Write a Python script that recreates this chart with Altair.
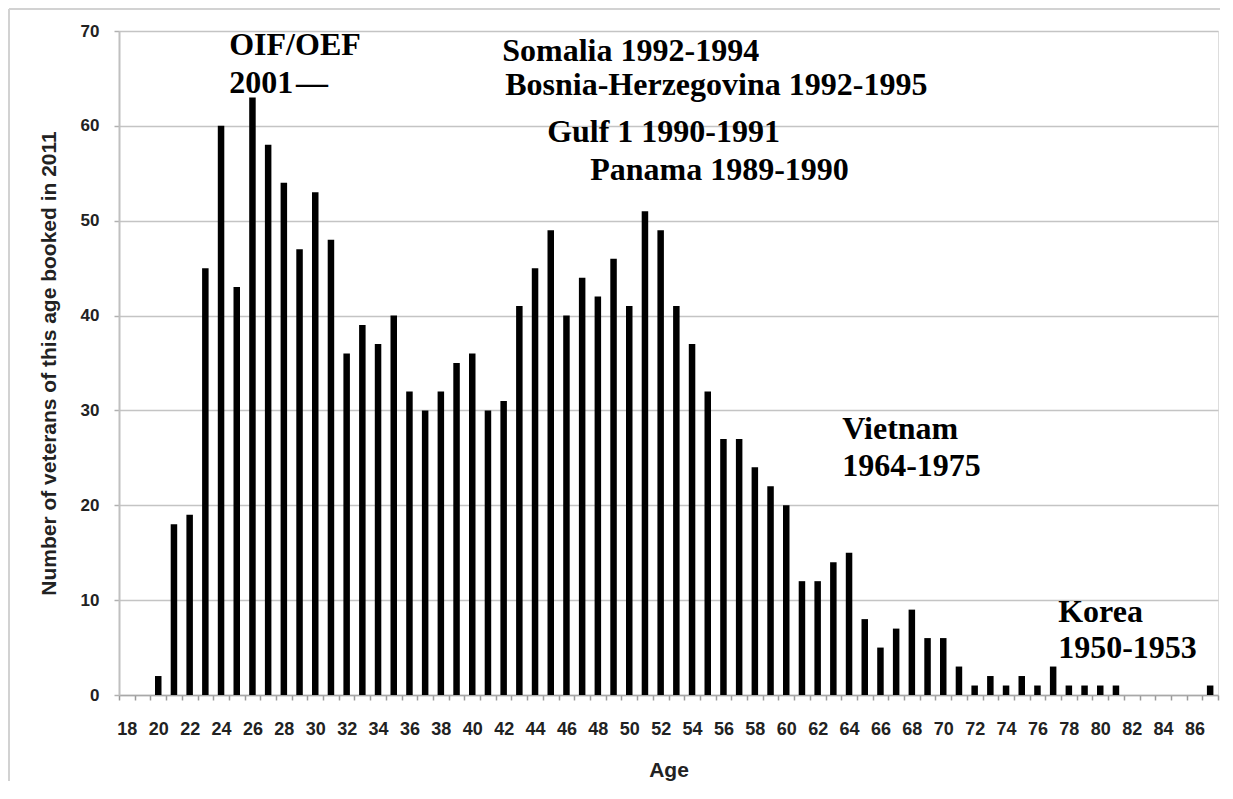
import altair as alt
import pandas as pd

ages = [18, 19, 20, 21, 22, 23, 24, 25, 26, 27, 28, 29, 30, 31, 32, 33, 34, 35,
        36, 37, 38, 39, 40, 41, 42, 43, 44, 45, 46, 47, 48, 49, 50, 51, 52, 53,
        54, 55, 56, 57, 58, 59, 60, 61, 62, 63, 64, 65, 66, 67, 68, 69, 70, 71,
        72, 73, 74, 75, 76, 77, 78, 79, 80, 81, 82, 83, 84, 85, 86, 87]
counts = [0, 0, 2, 18, 19, 45, 60, 43, 63, 58, 54, 47, 53, 48, 36, 39, 37, 40,
          32, 30, 32, 35, 36, 30, 31, 41, 45, 49, 40, 44, 42, 46, 41, 51, 49, 41,
          37, 32, 27, 27, 24, 22, 20, 12, 12, 14, 15, 8, 5, 7, 9, 6, 6, 3,
          1, 2, 1, 2, 1, 3, 1, 1, 1, 1, 0, 0, 0, 0, 0, 1]

note_text = ["OIF/OEF", "2001\u200a\u2014", "Somalia 1992-1994",
             "Bosnia-Herzegovina 1992-1995", "Gulf 1 1990-1991",
             "Panama 1989-1990", "Vietnam", "1964-1975", "Korea", "1950-1953"]
note_age = [24.52, 24.52, 41.91, 42.10, 44.77, 47.51, 63.56, 63.56, 77.32, 77.32]
note_val = [67.47, 63.46, 66.84, 63.25, 58.30, 54.29, 26.99, 23.09, 7.70, 3.90]

df = pd.DataFrame({"age": ages, "count": counts})
notes = pd.DataFrame({"text": note_text, "age": note_age, "val": note_val})

W, H = 1099, 664
PL, PT = 111, 23
PR = 1212 - PL - W
PB = 773 - PT - H

axis_font = "Liberation Sans Narrow, Liberation Sans, sans-serif"
ytitle = "Number of veterans of this age booked in 2011"

yscale = alt.Scale(domain=[0, 70], nice=False)
yaxis = alt.Axis(values=[0, 10, 20, 30, 40, 50, 60, 70],
                 labelFont=axis_font, labelFontSize=17, labelFontWeight="bold",
                 labelColor="#222222", labelPadding=15, labelBaseline="middle",
                 tickSize=5, tickColor="#b0b0b0", tickWidth=1.5,
                 domainColor="#c0c0c0", domainWidth=2,
                 gridColor="#c4c4c4", gridWidth=1.5,
                 titleFont=axis_font, titleFontSize=21, titleFontWeight="bold",
                 titleColor="#222222", titleX=-70, titleY=H / 2,
                 titleBaseline="middle", titleAngle=-90)

bars = alt.Chart(df).mark_bar(color="black", size=6.5).encode(
    x=alt.X("age:O", title="Age",
            scale=alt.Scale(paddingInner=0, paddingOuter=0),
            axis=alt.Axis(labelAngle=0, tickBand="extent",
                          labelExpr="datum.value % 2 == 0 ? datum.label : ''",
                          labelFont=axis_font, labelFontSize=18, labelFontWeight="bold",
                          labelColor="#222222", labelPadding=20,
                          tickSize=5, tickColor="#9a9a9a", tickWidth=1.5,
                          domainColor="#a8a8a8", domainWidth=1.5,
                          titleFont=axis_font, titleFontSize=21, titleFontWeight="bold",
                          titleColor="#222222", titleY=75, titleBaseline="middle",
                          grid=False)),
    y=alt.Y("count:Q", scale=yscale, title=ytitle, axis=yaxis),
)

labels = alt.Chart(notes).mark_text(
    align="left", baseline="alphabetic", font="Liberation Serif",
    fontWeight="bold", fontSize=32, color="black"
).encode(
    x=alt.X("age:Q", scale=alt.Scale(domain=[17.5, 87.5], nice=False, zero=False), axis=None),
    y=alt.Y("val:Q", scale=yscale, title=ytitle, axis=yaxis),
    text="text:N",
)

one = alt.Data(values=[{"k": 1}])
frame_top = alt.Chart(one).mark_rule(color="#d2d2d2", strokeWidth=2).encode(
    x=alt.value(-PL + 1), x2=alt.value(W + PR), y=alt.value(-PT + 1))
frame_left = alt.Chart(one).mark_rule(color="#d2d2d2", strokeWidth=2).encode(
    x=alt.value(-PL + 1), y=alt.value(-PT + 1), y2=alt.value(H + PB))

chart = alt.layer(bars, labels, frame_top, frame_left).resolve_scale(
    x="independent"
).properties(
    width=W, height=H,
    autosize=alt.AutoSizeParams(type="none"),
    padding={"left": PL, "top": PT, "right": PR, "bottom": PB},
).configure_view(stroke=None).configure(background="white")

chart.save("out.html", embed_options={"renderer": "svg", "actions": False})
